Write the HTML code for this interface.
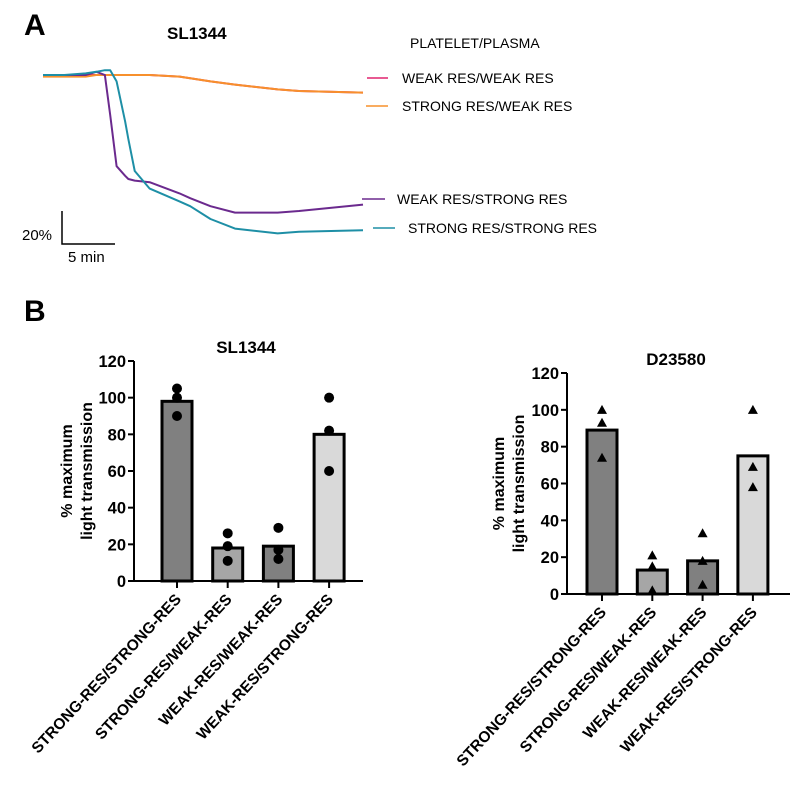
<!DOCTYPE html>
<html><head><meta charset="utf-8"><style>
body{margin:0;background:#fff;width:800px;height:790px;overflow:hidden;font-family:"Liberation Sans",Arial,sans-serif}
svg{display:block}
</style></head><body>
<svg id="fig" width="800" height="790" viewBox="0 0 800 790">
<text x="24" y="35" font-size="30" font-weight="bold">A</text>
<text x="167" y="39" font-size="17" font-weight="bold">SL1344</text>
<text x="410" y="48" font-size="14">PLATELET/PLASMA</text>
<g id="traces"></g>
<g>
<line x1="367" y1="78" x2="388" y2="78" stroke="#e0246e" stroke-width="1.5"/>
<text x="402" y="83" font-size="14">WEAK RES/WEAK RES</text>
<line x1="366" y1="106" x2="388" y2="106" stroke="#f7902c" stroke-width="1.5"/>
<text x="402" y="111" font-size="14">STRONG RES/WEAK RES</text>
<line x1="362" y1="199" x2="385" y2="199" stroke="#6b2a8e" stroke-width="1.5"/>
<text x="397" y="204" font-size="14">WEAK RES/STRONG RES</text>
<line x1="373" y1="228" x2="395" y2="228" stroke="#1e8fa6" stroke-width="1.5"/>
<text x="408" y="233" font-size="14">STRONG RES/STRONG RES</text>
</g>
<g>
<path d="M62 211 V244 H115" fill="none" stroke="#000" stroke-width="1.5"/>
<text x="22" y="240" font-size="15">20%</text>
<text x="68" y="262" font-size="15">5 min</text>
</g>
<text x="24" y="321" font-size="30" font-weight="bold">B</text>
<g id="chart1"></g>
<g id="chart2"></g>
</svg>
<script>
// Panel A traces: time (min) and drop in signal (% , positive = downward)
const traceTimes   = [0,2,4,5,5.8,6.3,6.9,7.7,8,8.6,10,12.8,13.8,15.7,18,22,24,30];
const weakWeak     = [0,0,0,0,0,0,0,0,0,0,0,1,2,4,6,9,10,11];
const strongWeak   = [1,1,1,0,0,0,0,0,0,0,0,1,2,4,6,9,10,11];
const weakStrong   = [0,0,0,-2,0,25,57,63,65,66,67,74,77,82,86,86,85,81];
const strongStrong = [0,0,-1,-2,-3,-3,4,29,40,60,71,79,82,90,96,99,98,97];
const ns="http://www.w3.org/2000/svg";
function tx(t){return 43+t*(363-43)/30;}
function ty(v){return 75+v*32/20;}
function drawTrace(vals,col,name){
  const g=document.getElementById('traces');
  const p=document.createElementNS(ns,'polyline');
  p.setAttribute('points',traceTimes.map((t,i)=>tx(t)+','+ty(vals[i])).join(' '));
  p.setAttribute('fill','none');p.setAttribute('stroke',col);p.setAttribute('stroke-width','2');
  p.setAttribute('stroke-linejoin','round');
  
  
  g.appendChild(p);
}
drawTrace(weakWeak,'#e0246e','trace-weak-weak');
drawTrace(strongWeak,'#f7902c','trace-strong-weak');
drawTrace(weakStrong,'#6b2a8e','trace-weak-strong');
drawTrace(strongStrong,'#1e8fa6','trace-strong-strong');

// Panel B data
const categories = ['STRONG-RES/STRONG-RES','STRONG-RES/WEAK-RES','WEAK-RES/WEAK-RES','WEAK-RES/STRONG-RES'];
const yTicks = [0,20,40,60,80,100,120];
const sl1344Means = [98,18,19,80];
const sl1344Points = [[105,100,90],[26,19,11],[29,17,12],[100,82,60]];
const d23580Means = [89,13,18,75];
const d23580Points = [[100,93,74],[21,15,2],[33,18,5],[100,69,58]];
const barFills = ['#808080','#a6a6a6','#808080','#d9d9d9'];

function el(tag,attrs,parent){const e=document.createElementNS(ns,tag);for(const k in attrs)e.setAttribute(k,attrs[k]);parent.appendChild(e);return e;}
function drawChart(id,cfg,means,points,marker,title){
  const g=document.getElementById(id);
  const ys=v=>cfg.y0-(v/120)*(cfg.y0-cfg.y120);
  const xs=i=>cfg.x0+cfg.first+i*cfg.step;
  const t=el('text',{x:cfg.titleX,y:cfg.titleY,'font-size':17,'font-weight':'bold','text-anchor':'middle'},g);
  t.textContent=title;
  
  
  means.forEach((m,i)=>{
    const r=el('rect',{x:xs(i)-15,y:ys(m),width:30,height:cfg.y0-ys(m),fill:barFills[i],stroke:'#000','stroke-width':3},g);
    
    
    points[i].forEach((p,j)=>{
      let mk;
      if(marker==='circle') mk=el('circle',{cx:xs(i),cy:ys(p),r:5,fill:'#000'},g);
      else {const cx=xs(i),cy=ys(p);mk=el('polygon',{points:(cx-5)+','+(cy+4)+' '+(cx+5)+','+(cy+4)+' '+cx+','+(cy-5),fill:'#000'},g);}
      
      
    });
    const tk=el('line',{x1:xs(i),y1:cfg.y0,x2:xs(i),y2:cfg.y0+7,stroke:'#000','stroke-width':2},g);
    
    
    const lx=xs(i)+5, ly=cfg.y0+19;
    const lb=el('text',{x:lx,y:ly,'font-size':15.5,'font-weight':'bold','text-anchor':'end',transform:'rotate(-47 '+lx+' '+ly+')'},g);
    lb.textContent=categories[i];
    
    
  });
  const ax=el('path',{d:'M'+cfg.x0+' '+cfg.y120+' V'+cfg.y0+' H'+cfg.x1,fill:'none',stroke:'#000','stroke-width':2},g);
  
  
  yTicks.forEach(v=>{
    const l=el('line',{x1:cfg.x0-6,y1:ys(v),x2:cfg.x0,y2:ys(v),stroke:'#000','stroke-width':2},g);
    
    
    const tt=el('text',{x:cfg.x0-8,y:ys(v)+6,'font-size':16.5,'font-weight':'bold','text-anchor':'end'},g);
    tt.textContent=v;
    
    
  });
  const yc=(cfg.y0+cfg.y120)/2;
  const a=el('text',{x:cfg.yTitleX,y:yc,'font-size':16,'font-weight':'bold','text-anchor':'middle',transform:'rotate(-90 '+cfg.yTitleX+' '+yc+')'},g);
  a.textContent='% maximum';
  
  
  const b=el('text',{x:cfg.yTitleX+20,y:yc,'font-size':16,'font-weight':'bold','text-anchor':'middle',transform:'rotate(-90 '+(cfg.yTitleX+20)+' '+yc+')'},g);
  b.textContent='light transmission';
  
  
}
drawChart('chart1',{x0:134,x1:363,y0:581,y120:361,first:43,step:50.7,titleX:246,titleY:353,yTitleX:72},sl1344Means,sl1344Points,'circle','SL1344');
drawChart('chart2',{x0:567,x1:790,y0:594,y120:373,first:35,step:50.3,titleX:676,titleY:365,yTitleX:504},d23580Means,d23580Points,'triangle','D23580');
</script>
</body></html>
